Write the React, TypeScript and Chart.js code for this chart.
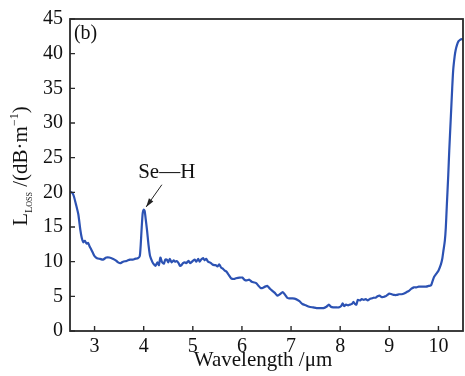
import React, { useEffect, useRef } from "react";
import { Chart, registerables } from "chart.js";

Chart.register(...registerables);

const wavelength = [
  2.5, 2.55, 2.58, 2.62, 2.67, 2.71, 2.74, 2.77, 2.8, 2.84, 2.87, 2.9, 2.93, 2.97, 3.0, 3.05, 3.11, 3.17, 3.24, 3.3,
  3.38, 3.43, 3.48, 3.53, 3.58, 3.65, 3.72, 3.78, 3.82, 3.88, 3.92, 3.94, 3.96, 3.98, 4.0, 4.02, 4.04, 4.07, 4.1, 4.13,
  4.18, 4.21, 4.24, 4.28, 4.31, 4.34, 4.37, 4.41, 4.44, 4.47, 4.5, 4.53, 4.57, 4.61, 4.64, 4.67, 4.71, 4.74, 4.77, 4.8,
  4.84, 4.87, 4.91, 4.95, 5.0, 5.04, 5.07, 5.11, 5.14, 5.17, 5.21, 5.24, 5.27, 5.31, 5.34, 5.37, 5.4, 5.44, 5.47, 5.5,
  5.54, 5.58, 5.61, 5.65, 5.68, 5.72, 5.78, 5.84, 5.88, 5.95, 6.01, 6.05, 6.1, 6.15, 6.2, 6.25, 6.29, 6.34, 6.38, 6.42,
  6.47, 6.52, 6.57, 6.62, 6.67, 6.72, 6.77, 6.83, 6.88, 6.92, 6.96, 7.03, 7.1, 7.17, 7.23, 7.3, 7.37, 7.45, 7.52, 7.6,
  7.66, 7.72, 7.77, 7.81, 7.86, 7.92, 7.97, 8.02, 8.05, 8.08, 8.12, 8.16, 8.2, 8.24, 8.27, 8.3, 8.33, 8.36, 8.4, 8.44,
  8.48, 8.52, 8.56, 8.6, 8.64, 8.68, 8.72, 8.76, 8.8, 8.84, 8.88, 8.92, 8.96, 9.0, 9.05, 9.1, 9.15, 9.2, 9.25, 9.3,
  9.35, 9.4, 9.45, 9.5, 9.55, 9.6, 9.65, 9.7, 9.75, 9.8, 9.85, 9.88, 9.91, 9.95, 10.0, 10.05, 10.08, 10.1, 10.13, 10.15,
  10.17, 10.2, 10.22, 10.25, 10.28, 10.3, 10.33, 10.35, 10.38, 10.41, 10.44, 10.47, 10.5,
];

const lossValues = [
  20.1, 19.9, 19.4, 18.3, 16.8, 14.6, 13.4, 12.8, 13.0, 12.6, 12.7, 12.2, 11.8, 11.2, 10.8, 10.5, 10.4, 10.3, 10.6, 10.6,
  10.4, 10.2, 9.9, 9.8, 10.0, 10.1, 10.3, 10.3, 10.4, 10.5, 10.8, 12.5, 15.0, 17.0, 17.5, 17.3, 16.2, 14.4, 12.3, 10.8,
  9.9, 9.6, 9.4, 9.9, 9.5, 10.6, 10.0, 9.7, 10.3, 10.3, 9.9, 10.4, 9.9, 10.2, 10.0, 10.1, 9.8, 9.4, 9.5, 9.8,
  9.9, 9.8, 10.1, 9.8, 10.1, 10.3, 10.0, 10.4, 10.0, 10.3, 10.5, 10.2, 10.4, 10.0, 9.9, 9.8, 9.6, 9.5, 9.5, 9.3,
  9.6, 9.1, 9.0, 8.7, 8.6, 8.2, 7.6, 7.5, 7.6, 7.7, 7.7, 7.4, 7.3, 7.4, 7.1, 7.0, 6.9, 6.5, 6.2, 6.2,
  6.4, 6.5, 6.1, 5.8, 5.5, 5.1, 5.3, 5.6, 5.2, 4.8, 4.7, 4.7, 4.6, 4.3, 3.9, 3.7, 3.5, 3.4, 3.3, 3.3,
  3.3, 3.5, 3.8, 3.5, 3.4, 3.4, 3.4, 3.6, 4.0, 3.6, 3.8, 3.7, 3.8, 3.9, 4.2, 3.9, 3.8, 4.5, 4.4, 4.6,
  4.5, 4.6, 4.4, 4.6, 4.7, 4.8, 4.8, 5.0, 5.1, 4.9, 4.9, 5.0, 5.2, 5.4, 5.3, 5.2, 5.2, 5.3, 5.3, 5.4,
  5.6, 5.8, 6.1, 6.3, 6.3, 6.4, 6.4, 6.4, 6.4, 6.5, 6.6, 7.2, 7.8, 8.2, 8.7, 9.6, 10.5, 11.5, 13.0, 14.9,
  18.0, 22.5, 26.0, 30.5, 35.0, 37.6, 39.6, 40.5, 41.3, 41.8, 42.0, 42.1, 42.0,
];

const xTicks = [3, 4, 5, 6, 7, 8, 9, 10];
const yTicks = [0, 5, 10, 15, 20, 25, 30, 35, 40, 45];

const panelLabel = "(b)";
const peakLabel = "Se—H";
const xTitle = "Wavelength /μm";

const FONT = "'Liberation Serif', 'DejaVu Serif', serif";
const AXIS_COLOR = "#2a2a2a";

const framePlugin = {
  id: "frameAndText",
  afterDatasetsDraw(chart: any) {
    const { ctx, chartArea: a, scales } = chart;
    const xs = scales.x;
    const ys = scales.y;
    ctx.save();
    // frame
    ctx.strokeStyle = AXIS_COLOR;
    ctx.lineWidth = 1.8;
    ctx.strokeRect(a.left, a.top, a.right - a.left, a.bottom - a.top);
    // inward ticks
    ctx.lineWidth = 1.4;
    ctx.beginPath();
    xTicks.forEach((t) => {
      const px = xs.getPixelForValue(t);
      ctx.moveTo(px, a.bottom);
      ctx.lineTo(px, a.bottom - 5);
    });
    yTicks.forEach((t) => {
      const py = ys.getPixelForValue(t);
      ctx.moveTo(a.left, py);
      ctx.lineTo(a.left + 5, py);
    });
    ctx.stroke();

    ctx.fillStyle = "#111";
    // panel label
    ctx.font = `20px ${FONT}`;
    ctx.textAlign = "left";
    ctx.textBaseline = "middle";
    ctx.fillText(panelLabel, xs.getPixelForValue(2.58), ys.getPixelForValue(42.9));

    // peak label
    ctx.font = `21px ${FONT}`;
    ctx.textAlign = "center";
    ctx.fillText(peakLabel, xs.getPixelForValue(4.47), ys.getPixelForValue(22.8));

    // arrow
    const x1 = xs.getPixelForValue(4.37);
    const y1 = ys.getPixelForValue(21.1);
    const x2 = xs.getPixelForValue(4.05);
    const y2 = ys.getPixelForValue(17.9);
    ctx.strokeStyle = "#222";
    ctx.lineWidth = 1;
    ctx.beginPath();
    ctx.moveTo(x1, y1);
    ctx.lineTo(x2, y2);
    ctx.stroke();
    const ang = Math.atan2(y2 - y1, x2 - x1);
    const hl = 9;
    const hw = 0.3;
    ctx.fillStyle = "#222";
    ctx.beginPath();
    ctx.moveTo(x2, y2);
    ctx.lineTo(x2 - hl * Math.cos(ang - hw), y2 - hl * Math.sin(ang - hw));
    ctx.lineTo(x2 - hl * Math.cos(ang + hw), y2 - hl * Math.sin(ang + hw));
    ctx.closePath();
    ctx.fill();

    // x title
    ctx.fillStyle = "#111";
    ctx.font = `21px ${FONT}`;
    ctx.textAlign = "center";
    ctx.textBaseline = "alphabetic";
    ctx.fillText(xTitle, 263, 366);

    // y title rotated with subscript/superscript
    ctx.save();
    ctx.translate(27, 166);
    ctx.rotate(-Math.PI / 2);
    ctx.textBaseline = "alphabetic";
    ctx.textAlign = "left";
    const parts: [string, number, number][] = [
      ["L", 21, 0],
      ["L", 10, 5],
      ["OSS", 8, 5],
      [" /(dB·m", 21, 0],
      ["−1", 12, -9],
      [")", 21, 0],
    ];
    let total = 0;
    parts.forEach(([t, s]) => {
      ctx.font = `${s}px ${FONT}`;
      total += ctx.measureText(t).width;
    });
    let cx = -total / 2;
    parts.forEach(([t, s, dy]) => {
      ctx.font = `${s}px ${FONT}`;
      ctx.fillText(t, cx, dy);
      cx += ctx.measureText(t).width;
    });
    ctx.restore();
    ctx.restore();
  },
};

export default function App() {
  const ref = useRef<HTMLCanvasElement>(null);
  useEffect(() => {
    document.body.style.margin = "0";
    const data = wavelength.map((w, i) => ({ x: w, y: lossValues[i] }));
    const chart = new Chart(ref.current!, {
      type: "line",
      data: {
        datasets: [
          {
            data,
            borderColor: "#2c52b3",
            borderWidth: 2.2,
            pointRadius: 0,
            tension: 0.2,
            fill: false,
          },
        ],
      },
      options: {
        animation: false,
        responsive: false,
        maintainAspectRatio: false,
        layout: { padding: { left: 0, right: 2, top: 15, bottom: 0 } },
        plugins: { legend: { display: false }, tooltip: { enabled: false } },
        scales: {
          x: {
            type: "linear",
            min: 2.5,
            max: 10.5,
            afterBuildTicks: (s: any) => {
              s.ticks = xTicks.map((v) => ({ value: v }));
            },
            afterFit: (s: any) => {
              s.height = 45;
            },
            grid: { display: false, drawTicks: false },
            border: { display: false },
            ticks: { color: "#111", font: { family: FONT, size: 20 }, padding: 4, maxRotation: 0 },
          },
          y: {
            type: "linear",
            min: 0,
            max: 45,
            afterBuildTicks: (s: any) => {
              s.ticks = yTicks.map((v) => ({ value: v }));
            },
            afterFit: (s: any) => {
              s.width = 70;
            },
            grid: { display: false, drawTicks: false },
            border: { display: false },
            ticks: { color: "#111", font: { family: FONT, size: 20 }, padding: 7 },
          },
        },
      },
      plugins: [framePlugin],
    });
    return () => chart.destroy();
  }, []);
  return (
    <div style={{ width: 465, height: 376, position: "relative" }}>
      <canvas ref={ref} width={465} height={376} style={{ display: "block" }} />
    </div>
  );
}
